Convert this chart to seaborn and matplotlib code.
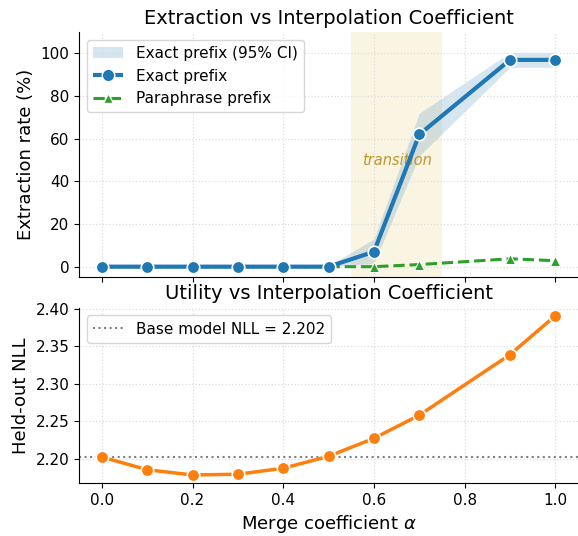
import numpy as np
import pandas as pd
import seaborn as sns
import matplotlib.pyplot as plt
from matplotlib.patches import Patch
from matplotlib.lines import Line2D

# ---- data ----
alpha = [0.0, 0.1, 0.2, 0.3, 0.4, 0.5, 0.6, 0.7, 0.9, 1.0]
exact_rate = [0, 0, 0, 0, 0, 0, 7, 62, 97, 97]
exact_lo = [0, 0, 0, 0, 0, 0, 1.5, 52, 93.5, 93.5]
exact_hi = [0, 0, 0, 0, 0, 0.5, 13, 72, 100.5, 100.5]
para_rate = [0, 0, 0, 0, 0, 0, 0, 1, 3.7, 2.8]
nll = [2.202, 2.185, 2.178, 2.179, 2.187, 2.203, 2.227, 2.258, 2.339, 2.391]
base_nll = 2.202

df = pd.DataFrame(dict(alpha=alpha, exact=exact_rate, para=para_rate, nll=nll))

plt.rcParams['font.family'] = ['DejaVu Sans']

fig, (ax1, ax2) = plt.subplots(
    2, 1, figsize=(5.78, 5.36), dpi=100, sharex=True,
    gridspec_kw=dict(height_ratios=[1.4, 1]))

# ---- top: extraction ----
ax1.axvspan(0.55, 0.75, color='goldenrod', alpha=0.12, lw=0, zorder=0)
ax1.text(0.65, 50, 'transition', color='darkgoldenrod', alpha=0.85,
         style='italic', ha='center', va='center', fontsize=10.5)
ax1.fill_between(alpha, exact_lo, exact_hi, color='tab:blue', alpha=0.18, lw=0)
sns.lineplot(df, x='alpha', y='para', ax=ax1, color='tab:green', lw=2.2,
             linestyle='--', marker='^', markersize=7, markeredgecolor='white',
             zorder=2)
sns.lineplot(df, x='alpha', y='exact', ax=ax1, color='tab:blue', lw=3,
             marker='o', markersize=9, markeredgecolor='white',
             markeredgewidth=1.2, zorder=3)
ax1.set_ylim(-5, 110)
ax1.set_yticks([0, 20, 40, 60, 80, 100])
ax1.set_ylabel('Extraction rate (%)', fontsize=13)
ax1.set_xlabel('')
ax1.set_title('Extraction vs Interpolation Coefficient', fontsize=14)
ax1.grid(True, linestyle=':', color='#dddddd', lw=0.9)
handles = [
    Patch(facecolor='tab:blue', alpha=0.18, label='Exact prefix (95% CI)'),
    Line2D([], [], color='tab:blue', lw=3, linestyle='--', marker='o',
           markersize=9, markeredgecolor='white', label='Exact prefix'),
    Line2D([], [], color='tab:green', lw=2.2, linestyle='--', marker='^',
           markersize=7, markeredgecolor='white', label='Paraphrase prefix'),
]
ax1.legend(handles=handles, loc='upper left', fontsize=11)

# ---- bottom: utility ----
ax2.axhline(base_nll, color='gray', linestyle=':', lw=1.5,
            label=f'Base model NLL = {base_nll:.3f}')
sns.lineplot(df, x='alpha', y='nll', ax=ax2, color='tab:orange', lw=2.5,
             marker='o', markersize=9, markeredgecolor='white',
             markeredgewidth=1.2)
ax2.set_ylabel('Held-out NLL', fontsize=13)
ax2.set_xlabel(r'Merge coefficient $\alpha$', fontsize=13)
ax2.set_title('Utility vs Interpolation Coefficient', fontsize=14)
ax2.set_xticks([0.0, 0.2, 0.4, 0.6, 0.8, 1.0])
ax2.set_yticks([2.20, 2.25, 2.30, 2.35, 2.40])
ax2.grid(True, linestyle=':', color='#dddddd', lw=0.9)
ax2.legend(loc='upper left', fontsize=11)

for ax in (ax1, ax2):
    ax.tick_params(labelsize=11)
sns.despine(fig)

fig.subplots_adjust(left=0.137, right=1.0, top=0.94, bottom=0.099, hspace=0.145)
fig.savefig('out.png', dpi=100)
